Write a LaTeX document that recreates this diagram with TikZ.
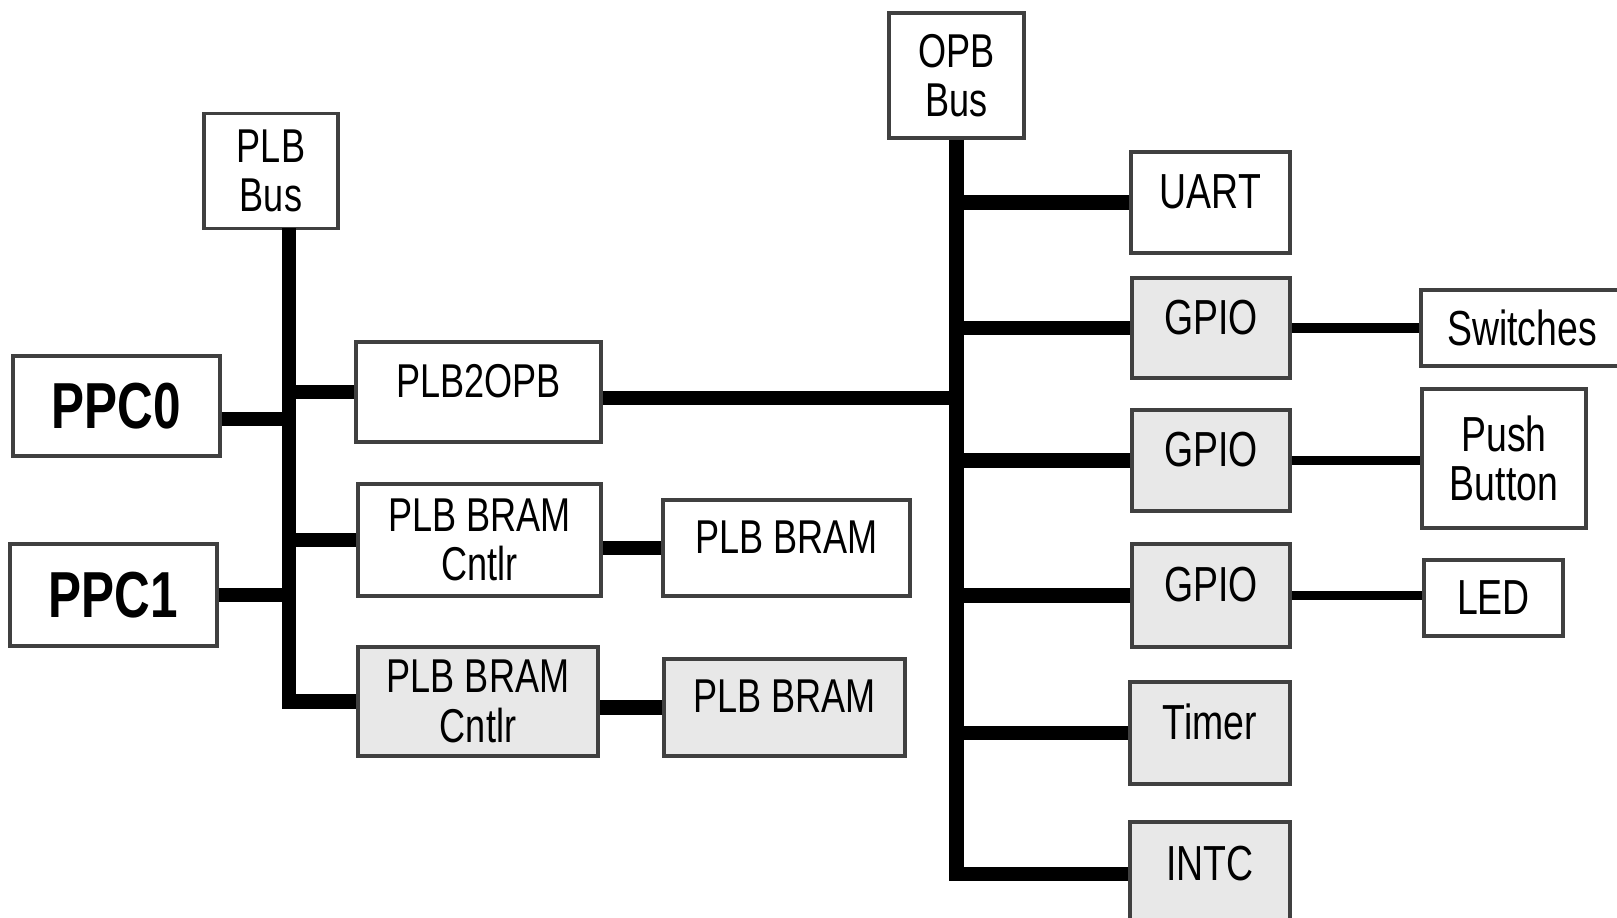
\documentclass[tikz,border=0pt]{standalone}
\usepackage{fontspec}
\setmainfont{Liberation Sans}[FakeStretch=0.76]

\begin{document}
\begin{tikzpicture}[x=0.01cm,y=-0.01cm,
    blk/.style={draw=black!75,line width=1pt,fill=white,inner sep=0pt,align=center,font={\fontsize{13.5}{14}\selectfont}},
    gblk/.style={blk,fill=black!9},
    up/.style={text depth=0.22cm},
    big/.style={font={\fontsize{14}{14}\selectfont}},
    bus/.style={line width=4pt},
    wire/.style={line width=2.7pt}]
    \useasboundingbox (0,0) rectangle (1617,918);
    % PLB side
    \node[blk,minimum width=1.34cm,minimum height=1.15cm] (PLB) at (271,171) {PLB\\Bus};
    \node[blk,minimum width=2.07cm,minimum height=1cm,font={\fontsize{18.5}{20}\selectfont\bfseries}] (P0) at (116.5,406) {PPC0};
    \node[blk,minimum width=2.07cm,minimum height=1.02cm,font={\fontsize{18.5}{20}\selectfont\bfseries}] (P1) at (113.5,595) {PPC1};
    \node[blk,up,minimum width=2.45cm,minimum height=1cm] (BR) at (478.5,392) {PLB2OPB};
    \node[blk,minimum width=2.43cm,minimum height=1.12cm] (C0) at (479.5,540) {PLB BRAM\\Cntlr};
    \node[blk,up,minimum width=2.47cm,minimum height=0.96cm] (M0) at (786.5,548) {PLB BRAM};
    \node[gblk,minimum width=2.4cm,minimum height=1.09cm] (C1) at (478,701.5) {PLB BRAM\\Cntlr};
    \node[gblk,up,minimum width=2.41cm,minimum height=0.97cm] (M1) at (784.5,707.5) {PLB BRAM};
    % OPB side
    \node[blk,minimum width=1.35cm,minimum height=1.25cm] (OPB) at (956.5,75.5) {OPB\\Bus};
    \node[blk,big,up,minimum width=1.59cm,minimum height=1.01cm] (U) at (1210.5,202.5) {UART};
    \node[gblk,big,up,minimum width=1.58cm,minimum height=1cm] (G0) at (1211,328) {GPIO};
    \node[gblk,big,up,minimum width=1.58cm,minimum height=1.01cm] (G1) at (1211,460.5) {GPIO};
    \node[gblk,big,up,minimum width=1.58cm,minimum height=1.03cm] (G2) at (1211,595.5) {GPIO};
    \node[gblk,big,up,minimum width=1.6cm,minimum height=1.02cm] (T) at (1210,733) {Timer};
    \node[gblk,big,up,minimum width=1.6cm,minimum height=1.04cm] (I) at (1210,874) {INTC};
    \node[blk,big,minimum width=2.02cm,minimum height=0.76cm] (SW) at (1522,328) {Switches};
    \node[blk,big,minimum width=1.64cm,minimum height=1.39cm] (PB) at (1504,458.5) {Push\\Button};
    \node[blk,big,minimum width=1.39cm,minimum height=0.76cm] (LED) at (1493.5,598) {LED};

    % PLB bus
    \coordinate (px) at (289,228);
    \draw[bus] (px) |- (C1.west);
    \draw[bus] ([yshift=-0.13cm]P0.east) -- ([yshift=-0.13cm]P0.east -| px);
    \draw[bus] (P1.east) -- (P1.east -| px);
    \draw[bus] (BR.west) -- (BR.west -| px);
    \draw[bus] (C0.west) -- (C0.west -| px);
    \draw[bus] (M0.west) -- (M0.west -| C0.east);
    \draw[bus] (M1.west) -- (M1.west -| C1.east);
    % OPB bus
    \draw[bus] (OPB.south) |- (I.west);
    \draw[bus] ([yshift=-0.06cm]BR.east) -- ([yshift=-0.06cm]BR.east -| OPB.south);
    \foreach \n in {U,G0,G1,G2,T}
        \draw[bus] (\n.west) -- (\n.west -| OPB.south);
    \draw[wire] (G0.east) -- (G0.east -| SW.west);
    \draw[wire] (G1.east) -- (G1.east -| PB.west);
    \draw[wire] (G2.east) -- (G2.east -| LED.west);
\end{tikzpicture}
\end{document}
